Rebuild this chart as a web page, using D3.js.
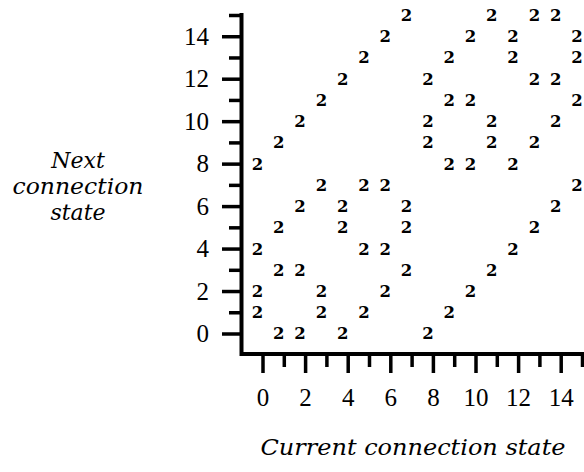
<!DOCTYPE html>
<html>
<head>
<meta charset="utf-8">
<script src="https://cdn.jsdelivr.net/npm/d3@7/dist/d3.min.js"></script>
<style>
body { margin: 0; background: #fff; }
svg text { font-family: "Liberation Serif", "DejaVu Serif", serif; fill: #000; }
svg text.pt, svg text.title { font-family: "DejaVu Serif", serif; }
</style>
</head>
<body>
<svg width="584" height="472"></svg>
<script>
// transitions: for each next state, the current states that lead to it
var nextStates = [0, 1, 2, 3, 4, 5, 6, 7, 8, 9, 10, 11, 12, 13, 14, 15];
var currentStates = [
    [1, 2, 4, 8],
    [0, 3, 5, 9],
    [0, 3, 6, 10],
    [1, 2, 7, 11],
    [0, 5, 6, 12],
    [1, 4, 7, 13],
    [2, 4, 7, 14],
    [3, 5, 6, 15],
    [0, 9, 10, 12],
    [1, 8, 11, 13],
    [2, 8, 11, 14],
    [3, 9, 10, 15],
    [4, 8, 13, 14],
    [5, 9, 12, 15],
    [6, 10, 12, 15],
    [7, 11, 13, 14]
];
var pointLabel = '2';
var majorTicks = [0, 2, 4, 6, 8, 10, 12, 14];
var minorTicks = [1, 3, 5, 7, 9, 11, 13, 15];

var points = [];
nextStates.forEach(function(n, i){
    currentStates[i].forEach(function(c){
        points.push({cur: c, next: n});
    });
});

var svg = d3.select('svg');

var ScaleX = d3.scaleLinear().domain([0, 15]).range([262.5, 582]);
var ScaleY = d3.scaleLinear().domain([0, 15]).range([333.5, 15]);

// frame (left + bottom)
svg.append('path')
    .attr('d', 'M241.5,13V354H584')
    .attr('fill', 'none')
    .attr('stroke', '#000')
    .attr('stroke-width', 4);

function styleAxis(g){
    g.select('.domain').remove();
    g.selectAll('line').attr('stroke', '#000').attr('stroke-width', 3.5);
    g.selectAll('text')
        .attr('font-size', 25)
        .attr('font-family', '"Liberation Serif", "DejaVu Serif", serif');
}

// x axis
svg.append('g')
    .attr('transform', 'translate(0,356)')
    .call(d3.axisBottom(ScaleX).tickValues(majorTicks).tickSize(17).tickPadding(15).tickFormat(d3.format('d')))
    .call(styleAxis);
svg.append('g')
    .attr('transform', 'translate(0,356)')
    .call(d3.axisBottom(ScaleX).tickValues(minorTicks).tickSize(11).tickFormat(''))
    .call(styleAxis);

// y axis
svg.append('g')
    .attr('transform', 'translate(240,0)')
    .call(d3.axisLeft(ScaleY).tickValues(majorTicks).tickSize(18).tickPadding(13).tickFormat(d3.format('d')))
    .call(styleAxis);
svg.append('g')
    .attr('transform', 'translate(240,0)')
    .call(d3.axisLeft(ScaleY).tickValues(minorTicks).tickSize(11).tickFormat(''))
    .call(styleAxis);

// points
svg.append('g').selectAll('text')
    .data(points)
    .enter()
    .append('text')
    .attr('class', 'pt')
    .attr('x', function(d){ return ScaleX(d.cur) - 5; })
    .attr('y', function(d){ return ScaleY(d.next); })
    .attr('dy', '0.36em')
    .attr('text-anchor', 'middle')
    .attr('font-size', 16.5)
    .attr('font-weight', 'bold')
    .text(pointLabel);

// axis titles
svg.append('text')
    .attr('class', 'title')
    .attr('x', 413)
    .attr('y', 455)
    .attr('text-anchor', 'middle')
    .attr('font-size', 22)
    .attr('font-style', 'italic')
    .attr('textLength', 305)
    .attr('lengthAdjust', 'spacingAndGlyphs')
    .text('Current connection state');

var yTitle = ['Next', 'connection', 'state'];
svg.append('g').selectAll('text')
    .data(yTitle)
    .enter()
    .append('text')
    .attr('class', 'title')
    .attr('x', 78)
    .attr('y', function(d, i){ return 168 + i * 26; })
    .attr('text-anchor', 'middle')
    .attr('font-size', 22)
    .attr('font-style', 'italic')
    .attr('textLength', function(d){ return d === 'connection' ? 131 : null; })
    .attr('lengthAdjust', 'spacingAndGlyphs')
    .text(function(d){ return d; });
</script>
</body>
</html>
